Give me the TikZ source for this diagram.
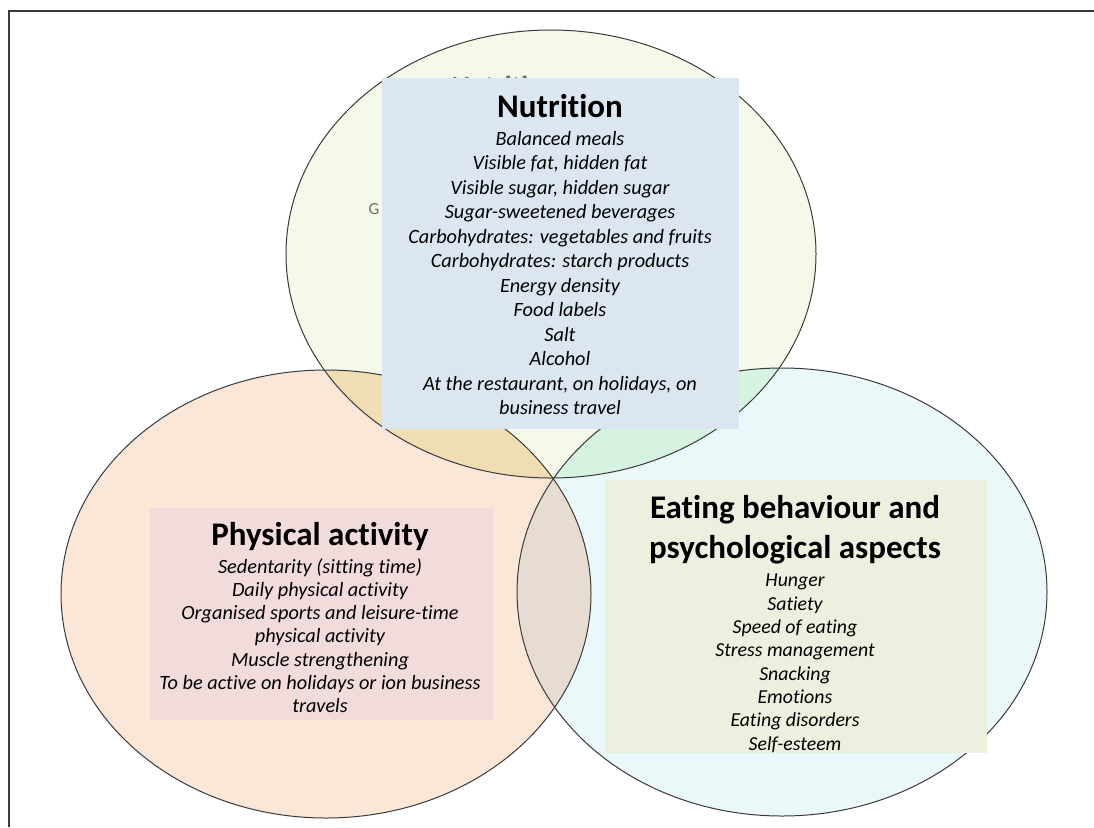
\documentclass[tikz,border=0pt]{standalone}
\usepackage{fontspec}
\setmainfont[Ligatures=NoCommon]{Carlito}
\definecolor{topfill}{HTML}{F4F9EA}
\definecolor{leftfill}{HTML}{FAE7D8}
\definecolor{rightfill}{HTML}{EAF8FA}
\definecolor{tlfill}{HTML}{F0DDB4}
\definecolor{trfill}{HTML}{D6F2E1}
\definecolor{lrfill}{HTML}{E7DCD2}
\definecolor{nutcol}{HTML}{DCE6F1}
\definecolor{physcol}{HTML}{F2DCDB}
\definecolor{eatcol}{HTML}{EBF1DE}
\definecolor{linecol}{HTML}{3A3A3A}
\definecolor{ghostcol}{HTML}{707070}
\begin{document}
\begin{tikzpicture}[x=1pt,y=-1pt,
  ell/.style={x radius=265pt, y radius=224pt},
  outline/.style={draw=linecol, line width=1pt},
  frameline/.style={draw=linecol, line width=1.3pt},
  panel/.style={draw=none, inner sep=0pt, outer sep=0pt},
  titletext/.style={inner sep=0pt, anchor=base, font=\fontsize{33}{40}\selectfont\bfseries, align=center},
  bodytext/.style={inner sep=0pt, anchor=base, font=\fontsize{20.3}{24.5}\selectfont\itshape, align=center},
  ghost/.style={inner sep=0pt, text=ghostcol}
]
\useasboundingbox (0,0) rectangle (1094,827);
\fill[white] (0,0) rectangle (1094,827);
\coordinate (T) at (551,254);
\coordinate (L) at (326,594);
\coordinate (R) at (782,592);
% circle fills
\fill[topfill] (T) ellipse [ell];
\fill[leftfill] (L) ellipse [ell];
\fill[rightfill] (R) ellipse [ell];
\begin{scope}
  \clip (T) ellipse [ell];
  \fill[tlfill] (L) ellipse [ell];
\end{scope}
\begin{scope}
  \clip (T) ellipse [ell];
  \fill[trfill] (R) ellipse [ell];
\end{scope}
\begin{scope}
  \clip (L) ellipse [ell];
  \fill[lrfill] (R) ellipse [ell];
\end{scope}
% outlines
\draw[outline] (T) ellipse [ell];
\draw[outline] (L) ellipse [ell];
\draw[outline] (R) ellipse [ell];
% frame
\draw[frameline] (9,827) -- (9,11) -- (1094,11);
% remnants of the underlying figure (mostly hidden by the panel)
\node[ghost, anchor=base, font=\fontsize{17}{17}\selectfont] (ghostG) at (374,214) {G};
\node[ghost, anchor=base, font=\fontsize{28}{28}\selectfont\bfseries] (ghostN) at (505,95) {Nutrition};
% panels
\node[panel, fill=nutcol, minimum width=357pt, minimum height=351pt] (nutbox) at (560.5,253.5) {};
\node[panel, fill=physcol, minimum width=343pt, minimum height=212pt] (physbox) at (321.5,614) {};
\node[panel, fill=eatcol, minimum width=382pt, minimum height=273pt] (eatbox) at (796,616.5) {};
% Nutrition (base anchor = baseline of the last line)
\node[titletext] (nuttitle) at (560,117) {Nutrition};
\node[bodytext] (nutbody) at (560,414.5) {Balanced meals\\Visible fat, hidden fat\\Visible sugar, hidden sugar\\Sugar-sweetened beverages\\Carbohydrates: vegetables and fruits\\Carbohydrates: starch products\\Energy density\\Food labels\\Salt\\Alcohol\\At the restaurant, on holidays, on\\business travel};
% Physical activity
\node[titletext] (phystitle) at (320,545) {Physical activity};
\node[bodytext, font=\fontsize{20.3}{23.3}\selectfont\itshape] (physbody) at (320,712.8) {Sedentarity (sitting time)\\Daily physical activity\\Organised sports and leisure-time\\physical activity\\Muscle strengthening\\To be active on holidays or ion business\\travels};
% Eating behaviour
\node[titletext] (eattitle) at (795,558) {Eating behaviour and\\psychological aspects};
\node[bodytext, font=\fontsize{19.8}{23.3}\selectfont\itshape] (eatbody) at (795,750) {Hunger\\Satiety\\Speed of eating\\Stress management\\Snacking\\Emotions\\Eating disorders\\Self-esteem};
\end{tikzpicture}
\end{document}
